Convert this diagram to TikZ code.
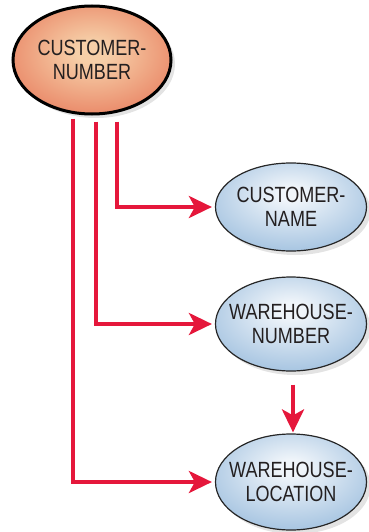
\documentclass[tikz,border=0pt]{standalone}
\usepackage{fontspec}
\setmainfont{Liberation Sans}[FakeStretch=0.82]
\usetikzlibrary{shapes.geometric,arrows.meta,shadows}
\definecolor{arrred}{HTML}{E5173B}
\definecolor{orin}{HTML}{F6CFA8}
\definecolor{orout}{HTML}{E4674A}
\definecolor{blin}{HTML}{F0F5FA}
\definecolor{blout}{HTML}{86AFD6}
\definecolor{txt}{HTML}{231F20}
\pgfdeclareradialshading{orangesh}{\pgfpoint{0bp}{4bp}}{color(0bp)=(orin); color(5bp)=(orin); color(40bp)=(orout); color(80bp)=(orout)}
\pgfdeclareradialshading{bluesh}{\pgfpoint{0bp}{8bp}}{color(0bp)=(blin); color(4bp)=(blin); color(42bp)=(blout); color(80bp)=(blout)}
\begin{document}
\begin{tikzpicture}[x=1pt,y=1pt,
  attr/.style={ellipse, inner sep=0pt,
    drop shadow={opacity=0.22, shadow xshift=4pt, shadow yshift=-4pt}},
  keyattr/.style={attr, draw=black, line width=3pt, minimum width=158pt, minimum height=108pt,
    shading=orangesh},
  depattr/.style={attr, draw=black!85, line width=1.2pt, minimum width=151pt, minimum height=88pt,
    shading=bluesh},
  lbl/.style={align=center, text=txt, inner sep=0pt, font=\fontsize{22}{24}\selectfont},
  fd/.style={draw=arrred, line width=4pt,
    -{Stealth[length=23pt,width=22pt,inset=6pt]}, shorten >=3pt}]
\useasboundingbox (0,0) rectangle (368,-532);
\node[keyattr] (cnum) at (92,-60) {};
\node[depattr] (cname) at (291,-207) {};
\node[depattr, minimum height=94pt] (wnum) at (291,-324) {};
\node[depattr, minimum height=96pt] (wloc) at (291,-482) {};
\node[lbl] (cnumt) at (cnum.center) {CUSTOMER-\\NUMBER};
\node[lbl] (cnamet) at (cname.center) {CUSTOMER-\\NAME};
\node[lbl] (wnumt) at (wnum.center) {WAREHOUSE-\\NUMBER};
\node[lbl] (wloct) at (wloc.center) {WAREHOUSE-\\LOCATION};
\draw[fd] ([xshift=25pt,yshift=-6pt]cnum.south) |- (cname.west);
\draw[fd] ([xshift=4pt,yshift=-6pt]cnum.south) |- (wnum.west);
\draw[fd] ([xshift=-19pt,yshift=-3pt]cnum.south) |- (wloc.west);
\draw[fd, shorten >=1pt] ([xshift=2pt,yshift=-13pt]wnum.south) -- ([xshift=2pt]wloc.north);
\end{tikzpicture}
\end{document}
